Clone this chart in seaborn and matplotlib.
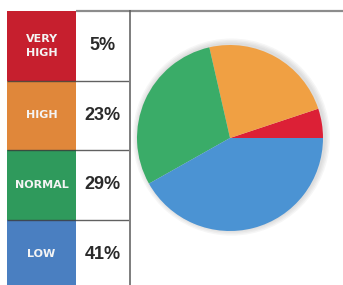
import matplotlib
matplotlib.use("Agg")
import matplotlib.pyplot as plt
from matplotlib.patches import Circle
import seaborn as sns

# ---- data ----
levels = ["VERY\nHIGH", "HIGH", "NORMAL", "LOW"]
percents = [5, 23, 29, 41]
pct_labels = ["5%", "23%", "29%", "41%"]
cell_colors = ["#c61f2e", "#e0873a", "#2f9a5c", "#4a7fc1"]
pie_colors = ["#dc2036", "#f0a043", "#3aac68", "#4b93d3"]

sns.set_theme(style="white")
plt.rcParams["font.family"] = ["Liberation Sans", "DejaVu Sans"]

W, H = 343, 285
fig = plt.figure(figsize=(W / 100, H / 100), dpi=100)
fig.patch.set_facecolor("white")

# background axes for frame lines
bg = fig.add_axes([0, 0, 1, 1])
bg.set_xlim(0, W)
bg.set_ylim(H, 0)
bg.axis("off")
bg.plot([76, W], [10.5, 10.5], color="#8c8c8c", lw=1.6, solid_capstyle="butt")
bg.plot([129.5, 129.5], [10, H], color="#5a5a5a", lw=1.1, solid_capstyle="butt")

# table axes
tab = fig.add_axes([7 / W, -4 / H, 122 / W, 278 / H])
tab.set_facecolor("none")
rows = list(range(len(levels)))
color_w = 69 / 122
tab.barh(rows, [color_w] * len(rows), height=1.0, left=0, color=cell_colors,
         edgecolor="none")
tab.set_xlim(0, 1)
tab.set_ylim(len(levels) - 0.5, -0.5)
tab.axis("off")
for i in rows[:-1]:
    tab.hlines(i + 0.5, 0, 1, color="#3a3a3a", lw=1.0, alpha=0.8)
for i, (lab, pct) in enumerate(zip(levels, pct_labels)):
    tab.text(color_w / 2, i, lab, ha="center", va="center", color="#f4f4f4",
             fontsize=8, fontweight="bold", family=["DejaVu Sans"],
             linespacing=1.45)
    tab.text((color_w + 1) / 2, i, pct, ha="center", va="center",
             color="#2a2a2a", fontsize=13, fontweight="bold")

# pie axes
cx, cy, r = 230, 138, 93
pax = fig.add_axes([(cx - r) / W, (H - cy - r) / H, 2 * r / W, 2 * r / H])
for k, rr in enumerate([1.06, 1.045, 1.03, 1.015]):
    pax.add_patch(Circle((0.015, 0.01), rr, color="#808080", alpha=0.07,
                         lw=0, clip_on=False, zorder=0))
wedges, _ = pax.pie(percents, colors=pie_colors, startangle=0, counterclock=True,
                    wedgeprops=dict(linewidth=0))
for w in wedges:
    w.set_zorder(2)
pax.set_xlim(-1, 1)
pax.set_ylim(-1, 1)

fig.savefig("out.png", dpi=100, facecolor="white")
